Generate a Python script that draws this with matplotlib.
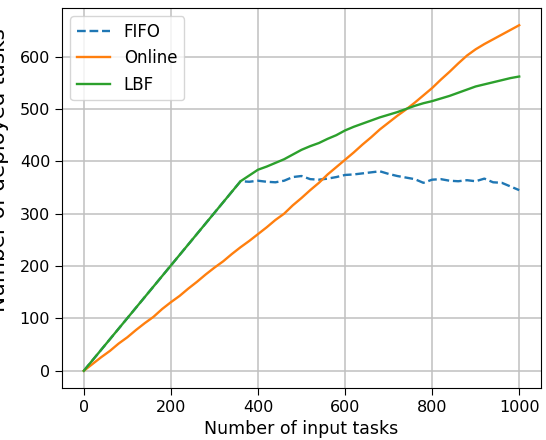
import matplotlib
matplotlib.use("Agg")
import matplotlib.pyplot as plt

# x positions (number of input tasks)
x_online = list(range(0, 1001, 20))
online = [0, 13, 26, 38, 52, 64, 78, 91, 103, 118, 131, 143, 157, 170, 184, 197,
          209, 223, 236, 248, 261, 274, 288, 300, 316, 330, 345, 359, 375, 389,
          403, 417, 432, 446, 461, 474, 487, 499, 512, 526, 540, 556, 571, 587,
          602, 614, 624, 633, 642, 651, 660]

x_lbf = [0, 360] + list(range(380, 1001, 20))
lbf = [0, 362, 373, 384, 390, 397, 404, 413, 422, 429, 435, 443, 450, 459,
       466, 472, 478, 484, 489, 494, 500, 506, 511, 515, 520, 525, 531, 537,
       543, 547, 551, 555, 559, 562]

x_fifo = [0, 360] + list(range(380, 1001, 20))
fifo = [0, 362, 361, 363, 361, 360, 363, 370, 372, 366, 365, 367, 370, 374,
        375, 377, 379, 381, 376, 372, 369, 366, 359, 365, 366, 363, 362, 364,
        362, 367, 360, 359, 352, 345]

fig = plt.figure(figsize=(5.46, 4.4), dpi=100)
ax = fig.add_axes([0.1136, 0.118, 0.8772, 0.864])

ax.plot(x_fifo, fifo, "--", color="#1f77b4", lw=1.7, label="FIFO")
ax.plot(x_online, online, color="#ff7f0e", lw=1.7, label="Online")
ax.plot(x_lbf, lbf, color="#2ca02c", lw=1.7, label="LBF")

ax.grid(True, color="#c0c0c0", lw=1.1)
ax.tick_params(labelsize=11.5, length=5, pad=3.5)
ax.set_xlabel("Number of input tasks", fontsize=12.5)
# the reference shows this label partly cut at the left edge
ax.set_ylabel("Number of deployed tasks", fontsize=15.5)
ax.yaxis.set_label_coords(-0.1106, 0.574)
ax.legend(loc="upper left", fontsize=12)

fig.savefig("out.png", dpi=100)
